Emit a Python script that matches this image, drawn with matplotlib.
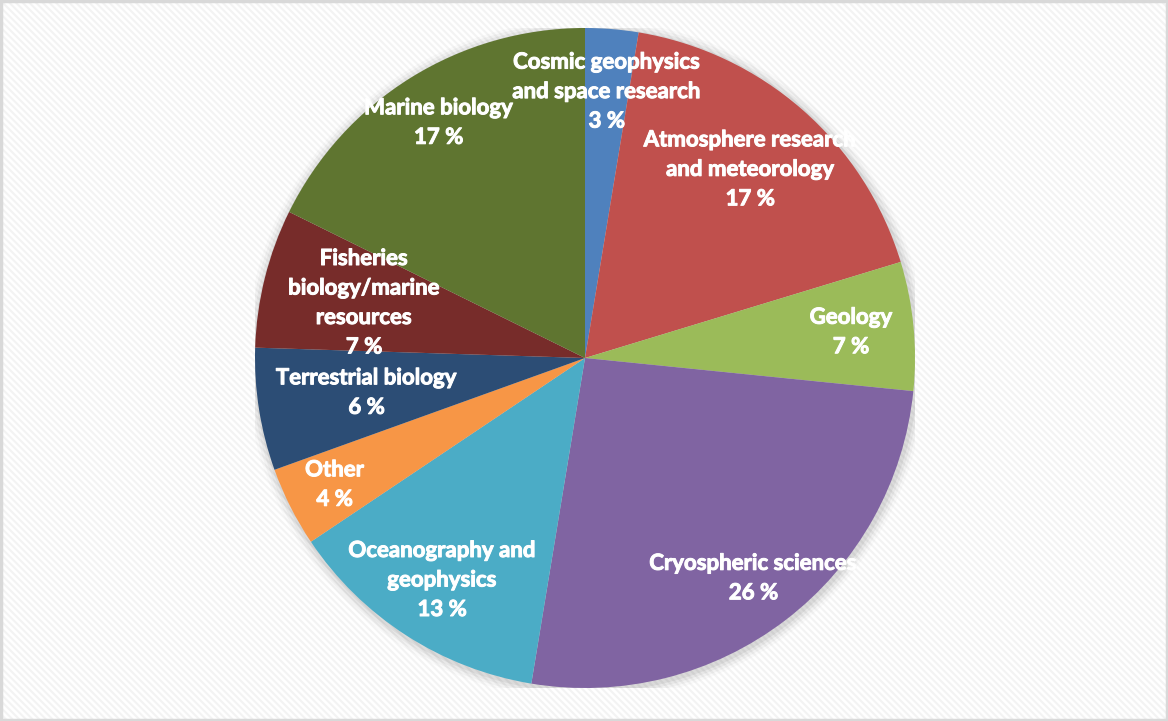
import numpy as np
import matplotlib.pyplot as plt
import matplotlib.patheffects as pe
from matplotlib.patches import Rectangle

# share of research projects by field (percent)
fields = ['Cosmic geophysics\nand space research', 'Atmosphere research\nand meteorology',
          'Geology', 'Cryospheric sciences', 'Oceanography and\ngeophysics', 'Other',
          'Terrestrial biology', 'Fisheries\nbiology/marine\nresources', 'Marine biology']
shares = [2.6, 17.7, 6.3, 26.0, 13.0, 3.9, 6.0, 6.8, 17.7]
pct_labels = ['3 %', '17 %', '7 %', '26 %', '13 %', '4 %', '6 %', '7 %', '17 %']
colors = ['#4F81BD', '#C0504D', '#9BBB59', '#8064A2', '#4BACC6',
          '#F79646', '#2C4D75', '#772C2A', '#5F7530']
label_r = [0.81, 0.76, 0.81, 0.84, 0.80, 0.85, 0.67, 0.69, 0.84]

W, H = 1168, 721
plt.rcParams['hatch.linewidth'] = 1.5
fig = plt.figure(figsize=(W / 100, H / 100), dpi=100)
fig.patch.set_facecolor('white')

# faint diagonal striped background + light border
bg = Rectangle((0, 0), 1, 1, transform=fig.transFigure, facecolor='white',
               edgecolor='#f3f3f3', hatch='\\' * 5, linewidth=0, zorder=-5)
fig.patches.append(bg)
fig.patches.append(Rectangle((0.001, 0.002), 0.998, 0.996, transform=fig.transFigure,
                             facecolor='none', edgecolor='#d9d9d9', linewidth=2.5, zorder=10))

cx, cy, r = 585, 358, 330
ax = fig.add_axes([(cx - r) / W, (H - cy - r) / H, 2 * r / W, 2 * r / H])

# soft shadow
for i, a in enumerate([0.05, 0.04, 0.03, 0.02]):
    ax.add_patch(plt.Circle((0.004, -0.006), 1.0 + 0.008 * (i + 1), color='#000000',
                            alpha=a, lw=0, zorder=0))

wedges, _ = ax.pie(shares, colors=colors, startangle=90, counterclock=False,
                   radius=1.0, wedgeprops=dict(linewidth=0))
for w in wedges:
    w.set_zorder(2)

ax.set_xlim(-1, 1)
ax.set_ylim(-1, 1)
ax.set_aspect('equal')
ax.axis('off')

for w, name, pct, lr in zip(wedges, fields, pct_labels, label_r):
    mid = np.deg2rad((w.theta1 + w.theta2) / 2)
    x, y = lr * np.cos(mid), lr * np.sin(mid)
    ax.text(x, y, name + '\n' + pct, ha='center', va='center', color='white',
            fontsize=16, fontweight='bold', family=['Lato', 'DejaVu Sans'],
            linespacing=1.5, zorder=3, clip_on=False,
            path_effects=[pe.withStroke(linewidth=0.7, foreground='white')])

fig.savefig('out.png', dpi=100, facecolor=fig.get_facecolor())
